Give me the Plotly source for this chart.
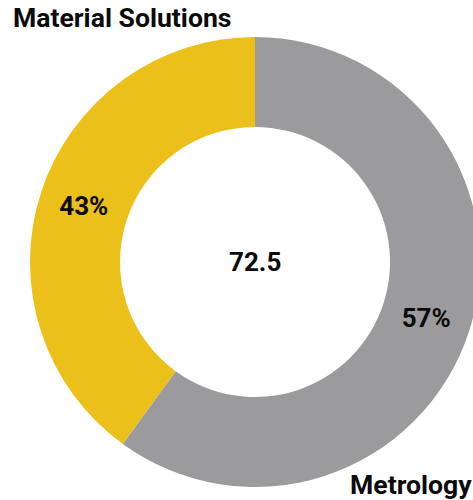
import plotly.graph_objects as go

segments = ["Metrology", "Material Solutions"]
values = [43.5, 29.0]
pct_labels = ["57%", "43%"]
colors = ["#9b9b9d", "#ecc01b"]
center_label = "72.5"

W, H = 490, 500
fig = go.Figure(go.Pie(
    labels=segments, values=values, text=pct_labels,
    textinfo="text", textposition="inside", insidetextorientation="horizontal",
    hole=0.6, sort=False, direction="clockwise", rotation=0,
    marker=dict(colors=colors, line=dict(width=0)),
    textfont=dict(family="Roboto", size=26, color="#0a0a0a", weight="bold"),
    domain=dict(x=[30 / W, 480 / W], y=[13 / H, 463 / H]),
    showlegend=False, hoverinfo="label+value",
))

font = dict(family="Roboto", size=26.6, color="#0a0a0a", weight="bold")
fig.add_annotation(text=center_label, x=255 / W, y=(H - 262) / H, xref="paper", yref="paper",
                   showarrow=False, font=dict(family="Roboto", size=26, color="#0a0a0a", weight="bold"),
                   xanchor="center", yanchor="middle")
fig.add_annotation(text=segments[1], x=11 / W, y=(H - 17) / H, xref="paper", yref="paper",
                   showarrow=False, font=font, xanchor="left", yanchor="middle")
fig.add_annotation(text=segments[0], x=474 / W, y=(H - 484) / H, xref="paper", yref="paper",
                   showarrow=False, font=font, xanchor="right", yanchor="middle")

fig.update_layout(width=W, height=H, margin=dict(l=0, r=0, t=0, b=0),
                  paper_bgcolor="white", plot_bgcolor="white")
fig.write_html(
    "out.html",
    config={"displayModeBar": False},
    post_script="document.body.style.margin='0';document.body.style.overflow='hidden';"
                "document.documentElement.style.overflow='hidden';",
)
